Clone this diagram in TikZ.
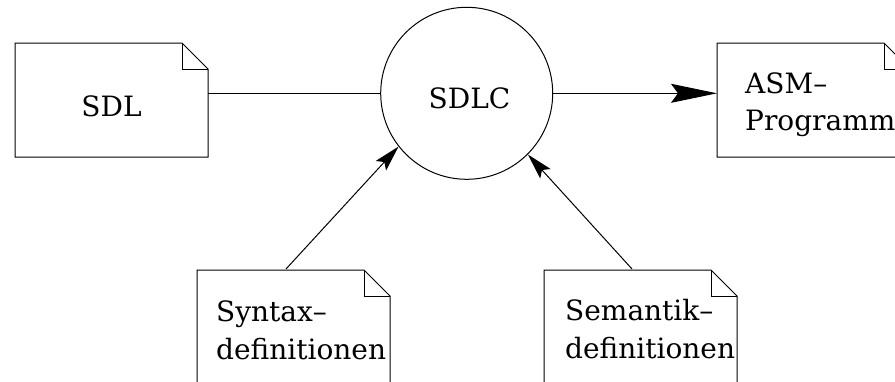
\documentclass[tikz,border=0pt]{standalone}
\usepackage{fontspec}
\setmainfont{DejaVu Serif}
\usetikzlibrary{arrows.meta}

% dog-eared document outline around a named rectangle node
\newcommand\dogear[1]{%
  \draw[docline] (#1.north west) -- ([xshift=-26pt]#1.north east)
    -- ([yshift=-26pt]#1.north east) -- (#1.south east)
    -- (#1.south west) -- cycle;
  \draw[docline] ([xshift=-26pt]#1.north east) |- ([yshift=-26pt]#1.north east);}

\tikzset{
  docline/.style={line width=1pt},
  docbox/.style={rectangle, draw=none, anchor=north west,
    minimum width=193pt, minimum height=114pt, inner sep=0pt, outer sep=0pt},
  lbl/.style={inner sep=0pt, font=\fontsize{28}{37.5}\selectfont},
  conn/.style={line width=1pt},
  bigtip/.style={-{Stealth[length=46pt,width=19pt,inset=7pt]}},
  smalltip/.style={-{Stealth[length=26pt,width=14pt,inset=5pt]}},
}

\begin{document}
\begin{tikzpicture}[x=1pt, y=-1pt]
  \useasboundingbox (0,0) rectangle (895,381);
  \fill[white] (0,0) rectangle (895,381);
  \clip (0,0) rectangle (895,381);

  % documents
  \node[docbox] (sdl) at (15,43) {};
  \node[docbox] (asm) at (717,43) {};
  \node[docbox] (syn) at (197,270) {};
  \node[docbox] (sem) at (544,270) {};
  \dogear{sdl}
  \dogear{asm}
  \dogear{syn}
  \dogear{sem}

  % compiler
  \node[circle, draw, line width=1pt, minimum size=172pt, inner sep=0pt]
    (sdlc) at (466.7,93.3) {};

  % texts
  \node[lbl, anchor=base] (sdltext) at (111.5,116) {SDL};
  \node[lbl, anchor=base] (sdlctext) at (469.5,108.3) {SDLC};
  \node[lbl, anchor=base west] (asmtext) at (745,93.3)
    {\vtop{\hbox{ASM--}\hbox{Programm}}};
  \node[lbl, anchor=base west] (syntext) at (216,321.5)
    {\vtop{\hbox{Syntax--}\hbox{definitionen}}};
  \node[lbl, anchor=base west] (semtext) at (565,320.5)
    {\vtop{\hbox{Semantik--}\hbox{definitionen}}};

  % connectors
  \draw[conn] (sdlc.west -| sdl.east) -- (sdlc.west);
  \draw[conn, bigtip] (sdlc.east) -- (sdlc.east -| asm.west);
  \draw[conn, smalltip] ([xshift=-7.5pt, yshift=1pt]syn.north) -- (sdlc.218);
  \draw[conn, smalltip] ([xshift=-8.5pt, yshift=1pt]sem.north) -- (sdlc.315);
\end{tikzpicture}
\end{document}
